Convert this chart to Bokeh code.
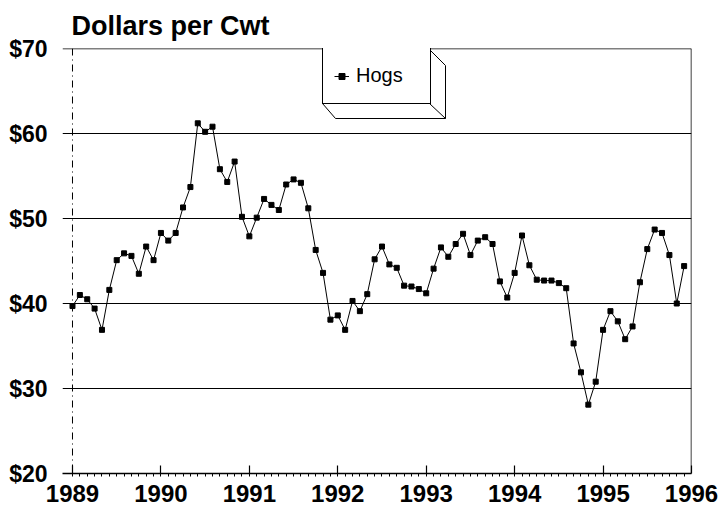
from bokeh.plotting import figure
from bokeh.models import FixedTicker, Span, Legend, LegendItem, PolyAnnotation, Range1d
from bokeh.embed import file_html
from bokeh.resources import INLINE

# ---- data -------------------------------------------------------------
years = [1989, 1990, 1991, 1992, 1993, 1994, 1995]
prices_1989 = [39.7, 41.0, 40.5, 39.4, 36.9, 41.6, 45.1, 45.9, 45.6, 43.5, 46.7, 45.1]
prices_1990 = [48.3, 47.4, 48.3, 51.3, 53.7, 61.2, 60.2, 60.8, 55.8, 54.3, 56.7, 50.2]
prices_1991 = [47.9, 50.1, 52.3, 51.6, 51.0, 54.0, 54.6, 54.2, 51.2, 46.3, 43.6, 38.1]
prices_1992 = [38.6, 36.9, 40.3, 39.1, 41.1, 45.2, 46.7, 44.6, 44.2, 42.1, 42.0, 41.7]
prices_1993 = [41.2, 44.1, 46.6, 45.5, 47.0, 48.2, 45.7, 47.4, 47.8, 47.0, 42.6, 40.7]
prices_1994 = [43.6, 48.0, 44.5, 42.8, 42.7, 42.7, 42.4, 41.8, 35.3, 31.9, 28.1, 30.8]
prices_1995 = [36.9, 39.1, 37.9, 35.8, 37.3, 42.5, 46.4, 48.7, 48.3, 45.7, 40.0, 44.4]
hog_prices = (prices_1989 + prices_1990 + prices_1991 + prices_1992 +
              prices_1993 + prices_1994 + prices_1995)
months = [y + m / 12 for y in years for m in range(12)]

x_ticks = [1989, 1990, 1991, 1992, 1993, 1994, 1995, 1996]
y_ticks = [20, 30, 40, 50, 60, 70]
y_tick_labels = {v: "$%d" % v for v in y_ticks}
series_name = "Hogs"
title_text = "Dollars per Cwt"

# ---- figure -----------------------------------------------------------
FONT = "Liberation Sans"
p = figure(frame_width=629, frame_height=425,
           min_border_left=62, min_border_right=29,
           min_border_top=48, min_border_bottom=40,
           x_range=Range1d(1988.887, 1996), y_range=Range1d(20, 70),
           output_backend="svg", toolbar_location=None)
p.outline_line_color = None
p.background_fill_color = "white"

p.title.text = title_text
p.title.align = "left"
p.title.offset = 9
p.title.standoff = 16
p.title.text_font = FONT
p.title.text_font_style = "bold"
p.title.text_font_size = "27px"
p.title.text_color = "black"

# grid
p.xgrid.visible = False
p.ygrid.ticker = FixedTicker(ticks=y_ticks)
p.ygrid.grid_line_color = "black"
p.ygrid.grid_line_width = 1.2

# y axis
ya = p.yaxis[0]
ya.ticker = FixedTicker(ticks=y_ticks)
ya.major_label_overrides = y_tick_labels
ya.axis_line_color = None
ya.major_tick_line_color = None
ya.minor_tick_line_color = None
ya.major_label_standoff = 9
ya.major_label_text_font = FONT
ya.major_label_text_font_style = "bold"
ya.major_label_text_font_size = "23px"
ya.major_label_text_color = "black"

# x axis
xa = p.xaxis[0]
xa.ticker = FixedTicker(ticks=x_ticks, minor_ticks=months)
xa.axis_line_color = "black"
xa.axis_line_width = 1.5
xa.major_tick_in = 8
xa.major_tick_out = 0
xa.major_tick_line_color = "black"
xa.major_tick_line_width = 1.2
xa.minor_tick_in = 0
xa.minor_tick_out = 3
xa.minor_tick_line_color = "black"
xa.major_label_standoff = 8
xa.major_label_text_font = FONT
xa.major_label_text_font_style = "bold"
xa.major_label_text_font_size = "24px"
xa.major_label_text_color = "black"

# frame lines: top rule, dashed 1989 line, right edge
p.add_layout(Span(location=70, dimension="width", line_color="black",
                  line_width=1.5))
p.add_layout(Span(location=1989, dimension="height", line_color="black",
                  line_width=1, line_dash="7 4 1 4"))
p.add_layout(Span(location=1996, dimension="height", line_color="black",
                  line_width=1.5))

# series
line_r = p.line(months, hog_prices, line_color="black", line_width=1)
scat_r = p.scatter(months, hog_prices, marker="square", size=5,
                   fill_color="black", line_color="black")

# 3D legend box extrusion (frame-relative pixels)
p.add_layout(PolyAnnotation(xs=[367, 383, 383, 273, 260, 367],
                            ys=[424, 408, 355, 355, 370, 370],
                            xs_units="screen", ys_units="screen",
                            fill_color="white", fill_alpha=1,
                            line_color="black", line_alpha=1, line_width=1))
p.add_layout(PolyAnnotation(xs=[367, 383], ys=[370, 355],
                            xs_units="screen", ys_units="screen",
                            fill_alpha=0, line_color="black", line_alpha=1,
                            line_width=1))

legend = Legend(items=[LegendItem(label=series_name, renderers=[line_r, scat_r])],
                location=(260, 369), margin=0, padding=11, spacing=0,
                glyph_width=15, glyph_height=20, label_standoff=7,
                label_width=63, label_height=33,
                label_text_font=FONT, label_text_font_size="20px",
                label_text_color="black",
                border_line_color="black", border_line_width=1,
                border_line_alpha=1,
                background_fill_color="white", background_fill_alpha=1)
p.add_layout(legend)

# front-face top edge of the legend box, drawn over the legend
p.add_layout(PolyAnnotation(xs=[260, 367], ys=[424.5, 424.5],
                            xs_units="screen", ys_units="screen",
                            fill_alpha=0, line_color="black", line_alpha=1,
                            line_width=1.5))

open("out.html", "w").write(file_html(p, INLINE))
